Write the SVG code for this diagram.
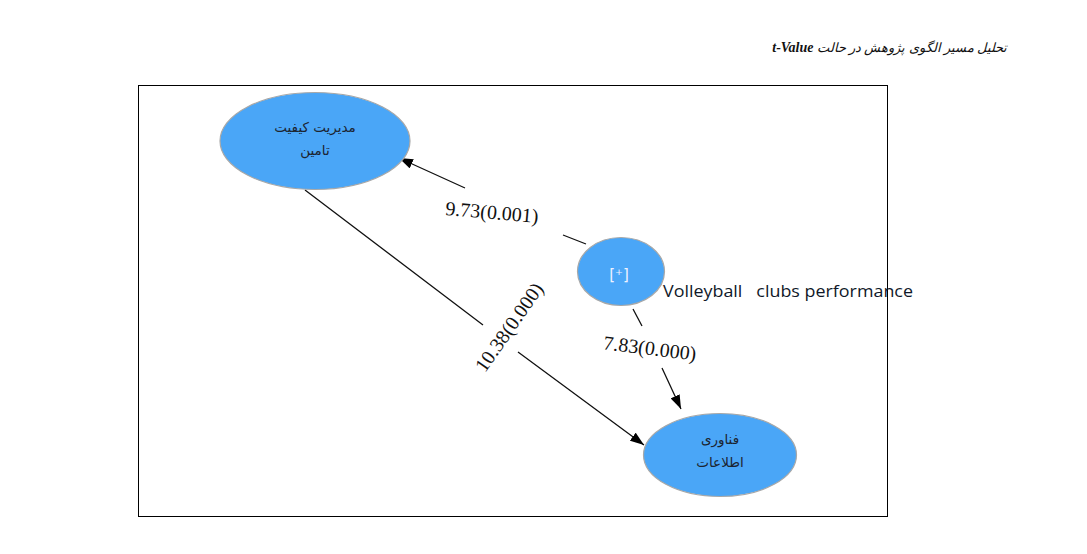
<svg xmlns="http://www.w3.org/2000/svg" width="1087" height="554" viewBox="0 0 1087 554">
<defs>
<marker id="arr" viewBox="0 0 14 10" refX="14" refY="5" markerWidth="14" markerHeight="10" markerUnits="userSpaceOnUse" orient="auto">
<path d="M0,0 L14,5 L0,10 Z" fill="#000"/>
</marker>
<style>
.node{fill:#4aa6f7;stroke:#a8a8a8;stroke-width:1.2}
.fa{font-family:"DejaVu Sans",sans-serif;font-size:13.5px;fill:#1c2430;text-anchor:middle}
.lbl{font-family:"Liberation Serif",serif;font-size:20px;fill:#111;text-anchor:middle}
.con{stroke:#111;stroke-width:1.3;fill:none}
</style>
</defs>
<rect width="1087" height="554" fill="#fff"/>
<text x="1007" y="52" direction="rtl" text-anchor="start" font-family="Liberation Serif, DejaVu Sans, serif" font-style="italic" font-size="13" fill="#111">تحلیل مسیر الگوی پژوهش در حالت <tspan font-weight="bold" font-size="14">t-Value</tspan></text>
<rect x="138.5" y="85.5" width="749" height="431" fill="none" stroke="#000" stroke-width="1"/>
<g id="connectors">
<path class="con" d="M586,244 L563,235 M465,188 L399,158" marker-end="url(#arr)"/>
<path class="con" d="M633,309 L642,326 M662,368 L681,409" marker-end="url(#arr)"/>
<path class="con" d="M305,190 L483,325 M518,352 L644,445" marker-end="url(#arr)"/>
<text class="lbl" x="492" y="219" transform="rotate(5 492 212)">9.73(0.001)</text>
<text class="lbl" x="650" y="355" transform="rotate(7 650 348)">7.83(0.000)</text>
<text class="lbl" x="509" y="334" transform="rotate(-55 509 327)">10.38(0.000)</text>
</g>
<g id="node-supply">
<ellipse class="node" cx="315" cy="141" rx="95" ry="48.5"/>
<text class="fa" x="315" y="132">مدیریت کیفیت</text>
<text class="fa" x="315" y="155">تامین</text>
</g>
<g id="node-it">
<ellipse class="node" cx="720" cy="455" rx="76.5" ry="41.5"/>
<text class="fa" x="720" y="444">فناوری</text>
<text class="fa" x="720" y="467">اطلاعات</text>
</g>
<g id="node-performance">
<ellipse class="node" cx="621" cy="271.5" rx="43.5" ry="34"/>
<text x="619" y="280" font-family="DejaVu Sans, sans-serif" font-size="15" fill="#eef2ff" text-anchor="middle">[⁺]</text>
<text x="663" y="297" font-family="Open Sans, sans-serif" font-size="16.5" fill="#101828" xml:space="preserve" textLength="250" lengthAdjust="spacingAndGlyphs">Volleyball   clubs performance</text>
</g>
</svg>
